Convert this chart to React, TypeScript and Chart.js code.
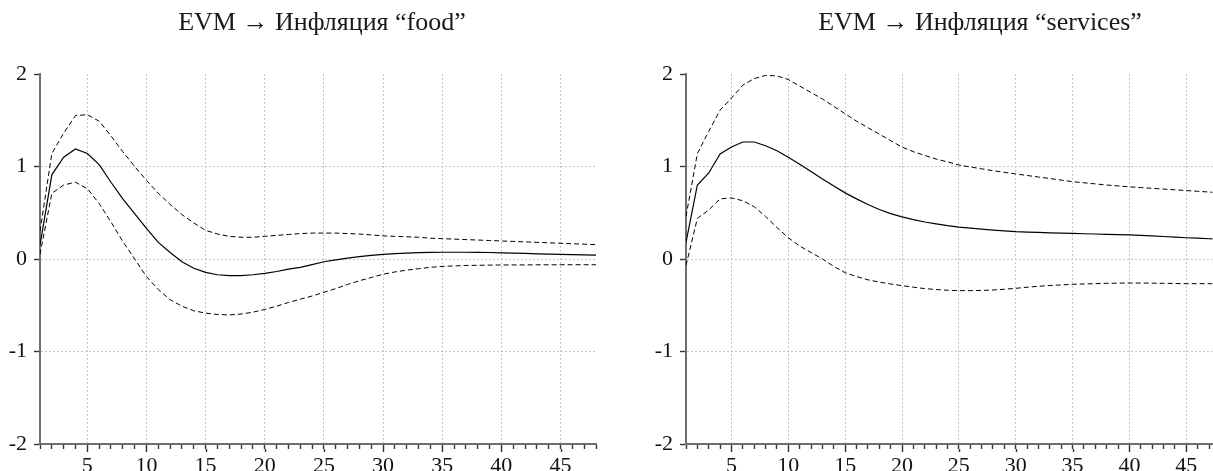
import React, { useEffect, useRef } from 'react';
import { Chart, registerables } from 'chart.js';

Chart.register(...registerables);

// Horizon (periods)
const horizon = [
  1, 2, 3, 4, 5, 6, 7, 8, 9, 10, 11, 12, 13, 14, 15, 16, 17, 18, 19, 20, 21, 22, 23, 24,
  25, 26, 27, 28, 29, 30, 31, 32, 33, 34, 35, 36, 37, 38, 39, 40, 41, 42, 43, 44, 45, 46, 47, 48,
];

const titleFood = 'EVM \u2192 Инфляция “food”';
const titleServices = 'EVM \u2192 Инфляция “services”';

// Panel 1: EVM -> food inflation
const foodCenter = [
  0.15, 0.91, 1.10, 1.19, 1.14, 1.02, 0.83, 0.65, 0.49, 0.33, 0.18, 0.07, -0.03, -0.10, -0.145, -0.17,
  -0.18, -0.18, -0.17, -0.155, -0.135, -0.11, -0.09, -0.06, -0.03, -0.01, 0.01, 0.025, 0.04, 0.05, 0.058, 0.064,
  0.069, 0.072, 0.073, 0.073, 0.073, 0.072, 0.07, 0.066, 0.063, 0.06, 0.056, 0.053, 0.05, 0.047, 0.044, 0.042,
];
const foodUpper = [
  0.3, 1.14, 1.36, 1.55, 1.56, 1.49, 1.33, 1.16, 1.0, 0.85, 0.71, 0.59, 0.48, 0.39, 0.31, 0.27,
  0.245, 0.235, 0.235, 0.245, 0.255, 0.265, 0.275, 0.28, 0.28, 0.28, 0.275, 0.27, 0.26, 0.25, 0.245, 0.24,
  0.235, 0.225, 0.22, 0.215, 0.21, 0.205, 0.2, 0.195, 0.19, 0.185, 0.18, 0.175, 0.17, 0.165, 0.16, 0.155,
];
const foodLower = [
  0.05, 0.71, 0.80, 0.83, 0.76, 0.60, 0.40, 0.19, 0.0, -0.19, -0.33, -0.44, -0.51, -0.56, -0.585, -0.60,
  -0.605, -0.595, -0.575, -0.545, -0.51, -0.47, -0.435, -0.40, -0.36, -0.32, -0.275, -0.235, -0.2, -0.165, -0.14, -0.12,
  -0.105, -0.09, -0.08, -0.075, -0.07, -0.068, -0.066, -0.065, -0.064, -0.064, -0.063, -0.063, -0.062, -0.062, -0.062, -0.062,
];

// Panel 2: EVM -> services inflation
const servCenter = [
  0.18, 0.80, 0.93, 1.135, 1.21, 1.265, 1.265, 1.225, 1.17, 1.10, 1.025, 0.945, 0.865, 0.79, 0.715, 0.65,
  0.59, 0.535, 0.49, 0.455, 0.425, 0.40, 0.38, 0.36, 0.345, 0.333, 0.322, 0.313, 0.304, 0.295, 0.291, 0.287,
  0.283, 0.28, 0.277, 0.273, 0.27, 0.267, 0.263, 0.26, 0.255, 0.249, 0.243, 0.237, 0.23, 0.225, 0.219, 0.214,
];
const servUpper = [
  0.46, 1.14, 1.38, 1.61, 1.74, 1.88, 1.95, 1.985, 1.98, 1.94, 1.87, 1.80, 1.73, 1.65, 1.57, 1.49,
  1.42, 1.35, 1.28, 1.21, 1.16, 1.12, 1.08, 1.05, 1.016, 0.995, 0.975, 0.955, 0.937, 0.92, 0.903, 0.886,
  0.87, 0.853, 0.836, 0.824, 0.812, 0.8, 0.79, 0.78, 0.772, 0.764, 0.756, 0.748, 0.74, 0.732, 0.724, 0.716,
];
const servLower = [
  -0.07, 0.44, 0.53, 0.65, 0.66, 0.63, 0.565, 0.46, 0.34, 0.23, 0.14, 0.07, 0.0, -0.08, -0.148, -0.19,
  -0.225, -0.25, -0.27, -0.288, -0.305, -0.32, -0.33, -0.338, -0.342, -0.342, -0.34, -0.335, -0.327, -0.317, -0.305, -0.295,
  -0.287, -0.28, -0.274, -0.27, -0.266, -0.263, -0.261, -0.26, -0.26, -0.261, -0.263, -0.265, -0.267, -0.267, -0.267, -0.267,
];

const yMin = -2;
const yMax = 2;
const labelEvery = 5;

const FONT = '"Liberation Serif", "Times New Roman", serif';

type PanelProps = {
  title: string;
  center: number[];
  upper: number[];
  lower: number[];
  xMax: number;
  left: number;
  width: number;
  rightPad: number;
  titleX: number;
};

function Panel({ title, center, upper, lower, xMax, left, width, rightPad, titleX }: PanelProps) {
  const ref = useRef<HTMLCanvasElement>(null);

  useEffect(() => {
    if (!ref.current) return;
    const pts = (arr: number[]) => horizon.map((h, i) => ({ x: h, y: arr[i] }));
    const titlePlugin = {
      id: 'panelTitle',
      afterDraw(chart: any) {
        const ctx = chart.ctx;
        ctx.save();
        ctx.font = `26px ${FONT}`;
        ctx.fillStyle = '#1a1a1a';
        ctx.textAlign = 'center';
        ctx.textBaseline = 'alphabetic';
        ctx.fillText(title, titleX, 30);
        ctx.restore();
      },
    };
    // longer tick marks at labelled positions
    const majorTicks = {
      id: 'majorTicks',
      afterDraw(chart: any) {
        const xs = chart.scales.x;
        const ctx = chart.ctx;
        ctx.save();
        ctx.strokeStyle = '#333';
        ctx.lineWidth = 1.4;
        xs.ticks.forEach((t: any) => {
          if (t.value % labelEvery === 0) {
            const px = Math.round(xs.getPixelForValue(t.value)) + 0.5;
            ctx.beginPath();
            ctx.moveTo(px, xs.top + 5);
            ctx.lineTo(px, xs.top + 8);
            ctx.stroke();
          }
        });
        ctx.restore();
      },
    };
    const dashed = {
      borderColor: '#000',
      borderWidth: 1,
      borderDash: [5, 3],
      pointRadius: 0,
      tension: 0,
      fill: false,
    };
    const chart = new Chart(ref.current, {
      type: 'line',
      data: {
        datasets: [
          { ...dashed, label: 'upper', data: pts(upper) },
          {
            label: 'irf',
            data: pts(center),
            borderColor: '#000',
            borderWidth: 1.2,
            pointRadius: 0,
            tension: 0,
            fill: false,
          },
          { ...dashed, label: 'lower', data: pts(lower) },
        ],
      },
      options: {
        animation: false,
        responsive: false,
        maintainAspectRatio: false,
        layout: { padding: { top: 74, right: rightPad, left: 0, bottom: 0 } },
        plugins: {
          legend: { display: false },
          tooltip: { enabled: false },
          title: { display: false },
        },
        scales: {
          x: {
            type: 'linear',
            min: 1,
            max: xMax,
            afterFit: (s: any) => {
              s.height = 27;
            },
            ticks: {
              stepSize: 1,
              autoSkip: false,
              maxRotation: 0,
              minRotation: 0,
              includeBounds: false,
              maxTicksLimit: 100,
              padding: 4,
              color: '#111',
              font: { family: FONT, size: 22 },
              callback: (v: any) => (Number(v) % labelEvery === 0 ? String(v) : ''),
            },
            grid: {
              color: (c: any) =>
                c.tick && c.tick.value % labelEvery === 0 ? '#c4c4c4' : 'rgba(0,0,0,0)',
              lineWidth: 1,
              tickLength: 5,
              tickColor: '#333',
              tickWidth: 1.4,
            },
            border: { display: true, color: '#6e6e6e', width: 2, dash: [2, 2] },
          },
          y: {
            min: yMin,
            max: yMax,
            afterFit: (s: any) => {
              s.width = 40;
            },
            ticks: {
              stepSize: 1,
              padding: 7,
              color: '#111',
              font: { family: FONT, size: 22 },
              callback: (v: any) => String(v),
            },
            grid: {
              color: (c: any) =>
                c.tick && Math.abs(c.tick.value) < 2 ? '#c4c4c4' : 'rgba(0,0,0,0)',
              lineWidth: 1,
              tickLength: 6,
              tickColor: '#333',
              tickWidth: 1.4,
            },
            border: { display: true, color: '#6e6e6e', width: 2, dash: [2, 2] },
          },
        },
      },
      plugins: [titlePlugin, majorTicks],
    } as any);
    return () => chart.destroy();
  }, []);

  return (
    <canvas
      ref={ref}
      width={width}
      height={471}
      style={{ position: 'absolute', left, top: 0, width, height: 471 }}
    />
  );
}

export default function App() {
  return (
    <div
      style={{
        position: 'absolute',
        left: 0,
        top: 0,
        width: 1213,
        height: 471,
        overflow: 'hidden',
        background: '#fff',
      }}
    >
      <Panel
        title={titleFood}
        center={foodCenter}
        upper={foodUpper}
        lower={foodLower}
        xMax={48}
        left={0}
        width={606}
        rightPad={10}
        titleX={322}
      />
      <Panel
        title={titleServices}
        center={servCenter}
        upper={servUpper}
        lower={servLower}
        xMax={47.3}
        left={646}
        width={567}
        rightPad={0}
        titleX={334}
      />
    </div>
  );
}
